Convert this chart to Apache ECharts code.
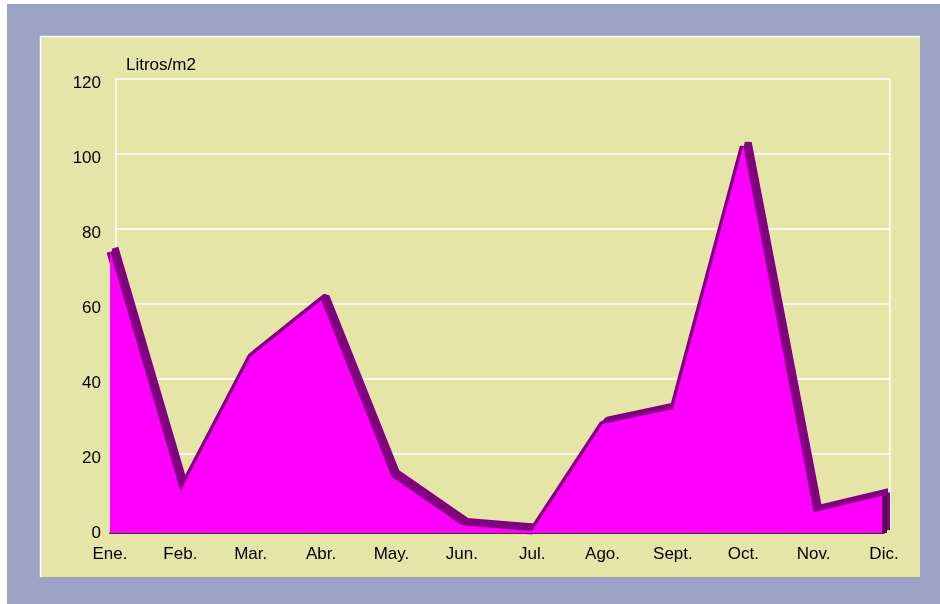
<!DOCTYPE html>
<html>
<head>
<meta charset="utf-8">
<script src="https://cdn.jsdelivr.net/npm/echarts@6/dist/echarts.min.js"></script>
<style>
  html, body { margin: 0; padding: 0; background: #fff; }
  .chart { width: 940px; height: 604px; }
</style>
</head>
<body>
<div class="chart"></div>
<script>
// datos de lluvia mensual
var meses = ['Ene.', 'Feb.', 'Mar.', 'Abr.', 'May.', 'Jun.', 'Jul.', 'Ago.', 'Sept.', 'Oct.', 'Nov.', 'Dic.'];
var litros = [75, 11, 47, 62, 15, 2, 0.5, 29, 33, 103, 5.5, 10];
var yTicks = [0, 20, 40, 60, 80, 100, 120];
var unidad = 'Litros/m2';

var $chart = document.querySelector('.chart');
var myChart = echarts.init($chart);

var fuente = 'Liberation Sans, Arial, sans-serif';

myChart.setOption({
  backgroundColor: '#fff',
  animation: false,
  graphic: [
    // marco exterior y panel
    { type: 'rect', z: -10, shape: { x: 7, y: 4, width: 933, height: 600 }, style: { fill: '#9CA3C5' } },
    { type: 'rect', z: -9, shape: { x: 40, y: 36, width: 880, height: 541 }, style: { fill: '#E5E5A8' } },
    { type: 'polyline', z: -8, shape: { points: [[40.5, 577], [40.5, 36.5], [920, 36.5]] }, style: { stroke: '#fff', lineWidth: 1.5, fill: null } },
    { type: 'text', left: 126, top: 57, style: { text: unidad, font: '17px ' + fuente, fill: '#000' } }
  ],
  grid: [
    // plano de fondo (rejilla)
    { left: 116, right: 50, top: 79, bottom: 75 },
    // plano frontal (datos)
    { left: 110, right: 56, top: 83, bottom: 71 }
  ],
  xAxis: [{
    gridIndex: 0,
    type: 'category',
    boundaryGap: false,
    data: meses,
    axisLine: { show: false },
    axisTick: { show: false },
    axisLabel: { show: false },
    splitLine: { show: false }
  }, {
    gridIndex: 1,
    type: 'category',
    boundaryGap: false,
    data: meses,
    axisLine: { show: true, lineStyle: { color: '#000', width: 1.5 } },
    axisTick: { show: false },
    axisLabel: { color: '#000', fontSize: 17, fontFamily: fuente, margin: 13 },
    splitLine: { show: false }
  }],
  yAxis: [{
    gridIndex: 0,
    type: 'value',
    min: 0,
    max: 120,
    interval: 20,
    axisLine: { show: true, lineStyle: { color: '#fff', width: 1.5 } },
    axisTick: { show: false },
    axisLabel: { show: false },
    splitLine: { show: true, lineStyle: { color: '#fff', width: 1.5 } }
  }, {
    gridIndex: 0,
    type: 'value',
    position: 'right',
    min: 0,
    max: 120,
    interval: 20,
    axisLine: { show: true, lineStyle: { color: '#fff', width: 1.5 } },
    axisTick: { show: false },
    axisLabel: { show: false },
    splitLine: { show: false }
  }, {
    gridIndex: 1,
    type: 'value',
    min: yTicks[0],
    max: yTicks[yTicks.length - 1],
    interval: 20,
    axisLine: { show: false },
    axisTick: { show: false },
    axisLabel: { color: '#000', fontSize: 17, fontFamily: fuente, margin: 9 },
    splitLine: { show: false }
  }],
  series: [{
    // borde 3D morado
    name: 'borde',
    type: 'line',
    xAxisIndex: 1,
    yAxisIndex: 2,
    data: litros,
    z: 2,
    symbol: 'none',
    lineStyle: {
      color: '#800080',
      width: 7,
      join: 'bevel',
      shadowColor: '#800080',
      shadowBlur: 0,
      shadowOffsetX: 5,
      shadowOffsetY: -4
    },
    markLine: {
      silent: true,
      symbol: 'none',
      label: { show: false },
      lineStyle: {
        type: 'solid',
        color: '#5a005a',
        width: 5,
        shadowColor: '#800080',
        shadowBlur: 0,
        shadowOffsetX: 3,
        shadowOffsetY: -3
      },
      data: [[{ coord: ['Dic.', 0] }, { coord: ['Dic.', litros[11]] }]]
    }
  }, {
    name: 'Litros/m2',
    type: 'line',
    xAxisIndex: 1,
    yAxisIndex: 2,
    data: litros,
    z: 3,
    symbol: 'none',
    lineStyle: { width: 0.5, color: '#FF00FF' },
    areaStyle: { color: '#FF00FF', opacity: 1 }
  }]
});
</script>
</body>
</html>
